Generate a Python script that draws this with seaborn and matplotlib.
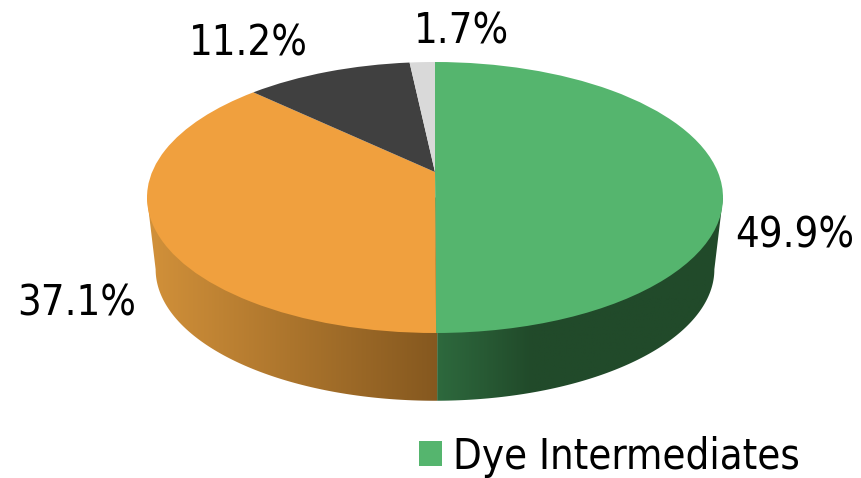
import numpy as np
import matplotlib
matplotlib.use('Agg')
import matplotlib.pyplot as plt
from matplotlib.patches import Polygon
from matplotlib.transforms import Transform
from matplotlib.font_manager import FontProperties
import seaborn as sns

# slices go clockwise from 12 o'clock
shares = [49.9, 37.1, 11.2, 1.7]
share_labels = ['49.9%', '37.1%', '11.2%', '1.7%']
legend_names = ['Dye Intermediates']
slice_colors = ['#55b56e', '#f0a03e', '#404040', '#d9d9d9']

sns.set_theme(style='white')
plt.rcParams['font.family'] = ['DejaVu Sans']
text_font = FontProperties(family='DejaVu Sans', stretch='condensed', size=30)

W, H = 861, 478
CX, CY, RX, RY = 435, 197.5, 288, 135.5
DROP = 0.53    # how far the base ellipse sits below the top one
BASE_R = 0.97  # pie narrows a bit towards the base
TILT = 0.188   # perspective: slice vertex sits above the ellipse centre


class Tilt(Transform):
    # moves points inside the unit disc, the rim stays on the rim
    input_dims = output_dims = 2

    def transform_non_affine(self, values):
        values = np.asarray(values)
        u, v = values[:, 0], values[:, 1]
        d = 1 + TILT * v
        return np.column_stack([np.sqrt(1 - TILT ** 2) * u / d, (v + TILT) / d])


tilt = Tilt()

fig = plt.figure(figsize=(W / 100, H / 100), dpi=100)
ax = fig.add_axes([0, 0, 1, 1])

wedges, _ = ax.pie(shares, colors=slice_colors, startangle=90, counterclock=False,
                   radius=1, center=(0, 0), wedgeprops={'linewidth': 0, 'zorder': 5})


def seam_angle(a):
    # clockwise degrees from 12 o'clock, after the tilt
    t = np.radians(a)
    x, y = tilt.transform_non_affine(np.array([[np.sin(t), np.cos(t)]]))[0]
    return np.degrees(np.arctan2(x, y)) % 360


def side_wall(a0, a1, ramp, stops):
    t = np.radians(np.linspace(a0, a1, 120))
    low = np.column_stack([BASE_R * np.sin(t), -DROP + BASE_R * np.cos(t)])
    p0 = [np.sin(t[0]), np.cos(t[0])]
    p1 = [np.sin(t[-1]), np.cos(t[-1])]
    verts = np.vstack([low, [p1], [[0, 0]], [p0]])
    clip = Polygon(verts, closed=True, transform=ax.transData, facecolor='none', edgecolor='none')
    ax.add_patch(clip)
    cmap = sns.blend_palette(ramp, as_cmap=True)
    xs = verts[:, 0]
    im = ax.imshow(np.linspace(stops[0], stops[1], 256).reshape(1, -1), cmap=cmap, vmin=0, vmax=1,
                   extent=(xs.min(), xs.max(), -1.6, 0.1), aspect='auto', zorder=2)
    im.set_clip_path(clip)


seam = seam_angle(np.cumsum(shares)[0] / 100 * 360)
side_wall(90, seam, ['#214a2a', '#214a2a', '#214a2a', '#2e6a3e'], (1, 0))
side_wall(seam, 270, ['#d2913a', '#85581f'], (0, 1))

ax.set_aspect('auto')
ax.set_xlim(-CX / RX, (W - CX) / RX)
ax.set_ylim((CY - H) / RY, CY / RY)
ax.axis('off')

for w in wedges:
    w.set_transform(tilt + ax.transData)

label_x = [795, 77, 248, 462]
label_y = [236, 304, 44, 32]
for txt, x, y in zip(share_labels, label_x, label_y):
    ax.annotate(txt, xy=(x, H - y), xycoords='figure pixels', ha='center', va='center',
                fontproperties=text_font, color='black')

ax.legend(wedges[:1], legend_names, loc='center left', bbox_to_anchor=(418.5 / W, 1 - 456.5 / H),
          frameon=False, prop=text_font, handlelength=0.56, handleheight=0.56, handletextpad=0.27,
          borderpad=0, borderaxespad=0, labelcolor='black')

fig.savefig('out.png', dpi=100)
